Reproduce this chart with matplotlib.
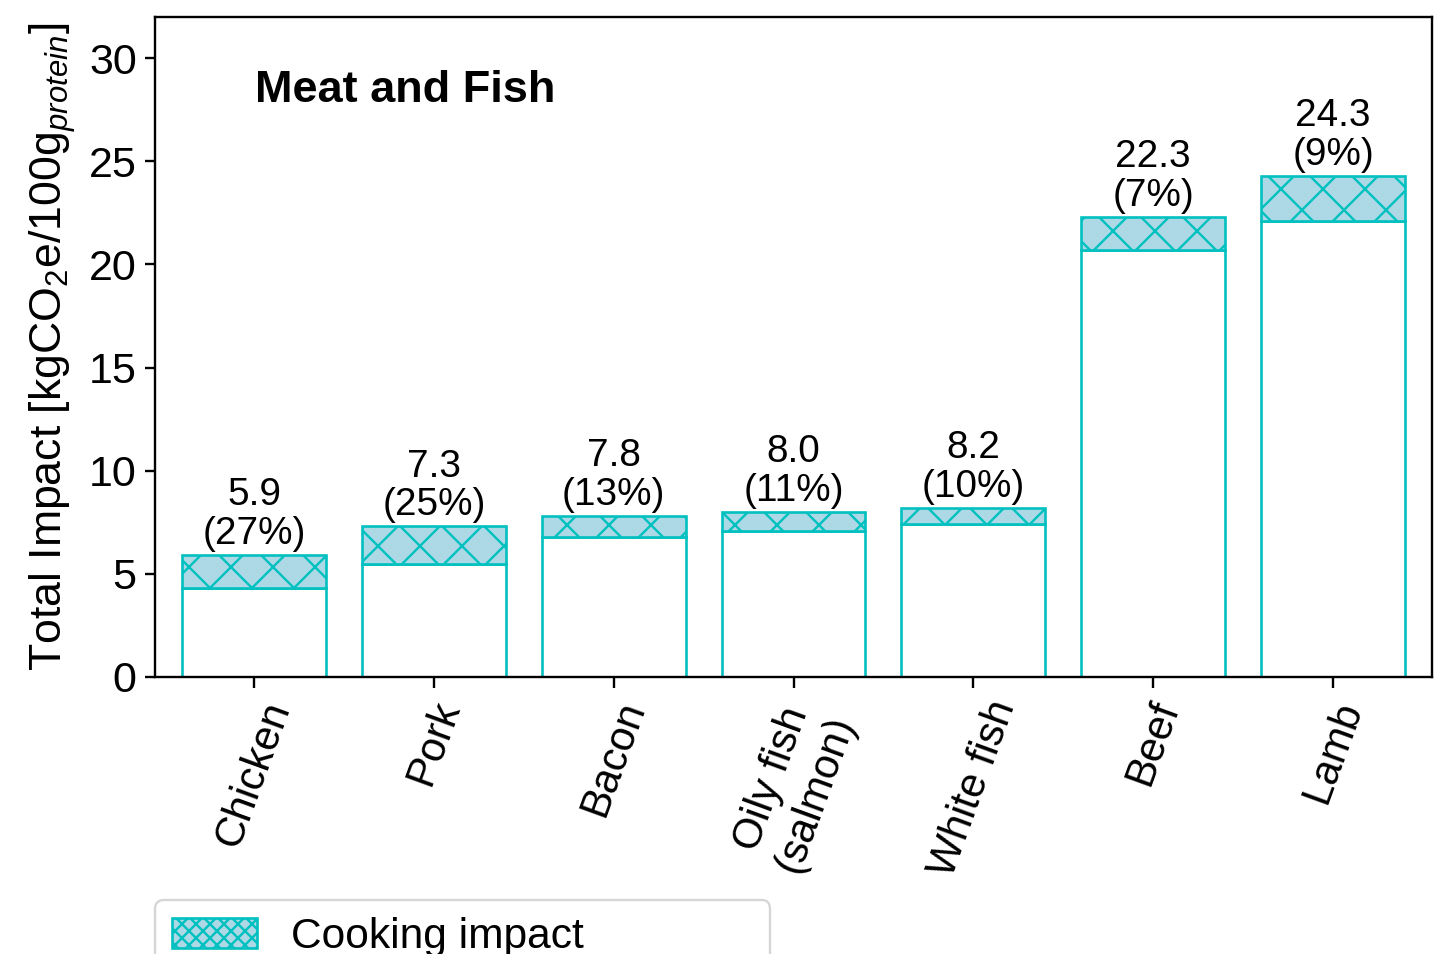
import matplotlib
matplotlib.use('Agg')
from matplotlib import pyplot as plt

# Data
foods = ['Chicken', 'Pork', 'Bacon', 'Oily fish\n(salmon)', 'White fish', 'Beef', 'Lamb']
totals = [5.9, 7.3, 7.8, 8.0, 8.2, 22.3, 24.3]
cooking_pct = [27, 25, 13, 11, 10, 7, 9]
base = [4.3, 5.5, 6.8, 7.1, 7.4, 20.7, 22.1]

EDGE = '#00C0C0'
FILL = '#ADD8E6'

plt.rcParams['font.family'] = ['Liberation Sans', 'DejaVu Sans']
plt.rcParams['mathtext.fontset'] = 'custom'
plt.rcParams['mathtext.rm'] = 'Liberation Sans'
plt.rcParams['mathtext.it'] = 'Liberation Sans:italic'
plt.rcParams['hatch.linewidth'] = 0.45
plt.rcParams['axes.linewidth'] = 0.45

DPI = 378
fig = plt.figure(figsize=(1437 / DPI, 954 / DPI), dpi=DPI)
ax = fig.add_axes([0.1079, 0.2904, 0.8886, 0.6918])

x = list(range(len(foods)))
cooking = [t - b for t, b in zip(totals, base)]

ax.bar(x, base, width=0.8, color='white', edgecolor=EDGE, linewidth=0.5, zorder=2)
ax.bar(x, cooking, width=0.8, bottom=base, color=FILL, edgecolor=EDGE,
       linewidth=0.5, hatch='xxx', zorder=2)

for xi, t, p in zip(x, totals, cooking_pct):
    ax.text(xi, t + 0.15, '%.1f\n(%d%%)' % (t, p), ha='center', va='bottom',
            fontsize=7.4, linespacing=1.1)

ax.text(0.078, 0.889, 'Meat and Fish', transform=ax.transAxes, fontsize=8.6,
        fontweight='bold', ha='left', va='center')

ax.set_xlim(-0.55, 6.55)
ax.set_ylim(0, 32)
ax.set_yticks([0, 5, 10, 15, 20, 25, 30])
ax.set_xticks(x)
ax.set_xticklabels(foods, rotation=70, fontsize=8.0)
ax.tick_params(axis='y', labelsize=8.2, width=0.45, length=2.0, pad=1.5)
ax.tick_params(axis='x', width=0.45, length=2.0, pad=1.5)
ax.set_ylabel('Total Impact [kgCO$_2$e/100g$_{protein}$]', fontsize=8.5, labelpad=2)

# legend box sits at the very bottom and is cut by the figure edge, as in the source
handle = matplotlib.patches.Patch(facecolor=FILL, edgecolor=EDGE, hatch='xxxxxxxxx',
                                  linewidth=0.5, label='Cooking impact')
leg = fig.legend(handles=[handle], loc='upper left', mode='expand',
                 bbox_to_anchor=(0.108, -0.2, 0.428, 0.2566),
                 bbox_transform=fig.transFigure, borderaxespad=0,
                 fontsize=8.1, frameon=True)
leg.get_frame().set_linewidth(0.45)

fig.savefig('out.png', dpi=DPI)
